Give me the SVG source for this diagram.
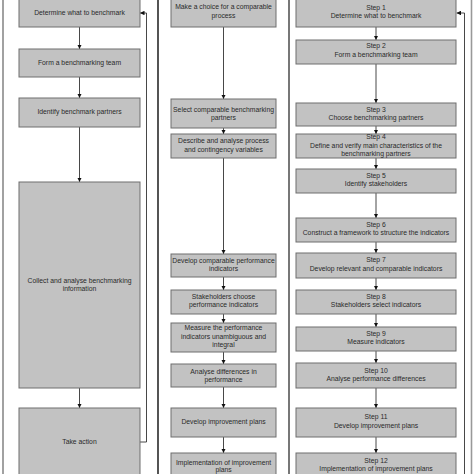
<svg xmlns="http://www.w3.org/2000/svg" width="474" height="474" viewBox="0 0 474 474">
<defs>
<marker id="ah" viewBox="0 0 10 10" refX="10" refY="5" markerWidth="4.5" markerHeight="4.5" markerUnits="userSpaceOnUse" orient="auto">
<path d="M0,0 L10,5 L0,10 z" fill="#111"/>
</marker>
<style>
.b{fill:#c2c2c2;stroke:#6e6e6e;stroke-width:1}
text{font-family:"Liberation Sans",Arial,sans-serif;font-size:6.8px;fill:#2a2a2a;text-anchor:middle}
.c{fill:none;stroke:#333;stroke-width:0.9;marker-end:url(#ah)}
.f{fill:none;stroke:#444;stroke-width:0.9}
.frame{stroke-width:1.6}
</style>
</defs>
<rect width="474" height="474" fill="#fff"/>
<g id="frames">
<line class="frame" x1="3" y1="0" x2="3" y2="474" stroke="#8a8a8a"/>
<line class="frame" x1="158" y1="0" x2="158" y2="474" stroke="#2a2a2a"/>
<line class="frame" x1="289" y1="0" x2="289" y2="474" stroke="#555"/>
<line class="frame" x1="471.5" y1="0" x2="471.5" y2="474" stroke="#999"/>
</g>
<g id="connectors">
<line class="c" x1="79.5" y1="27" x2="79.5" y2="49"/>
<line class="c" x1="79.5" y1="77" x2="79.5" y2="98"/>
<line class="c" x1="79.5" y1="127" x2="79.5" y2="182"/>
<line class="c" x1="79.5" y1="388" x2="79.5" y2="408"/>
<path class="c" d="M140,442 H146.5 V13 H140"/>
<line class="c" x1="223.5" y1="27" x2="223.5" y2="99"/>
<line class="c" x1="223.5" y1="128" x2="223.5" y2="134"/>
<line class="c" x1="223.5" y1="158" x2="223.5" y2="254"/>
<line class="c" x1="223.5" y1="277" x2="223.5" y2="290"/>
<line class="c" x1="223.5" y1="314" x2="223.5" y2="323"/>
<line class="c" x1="223.5" y1="352" x2="223.5" y2="364"/>
<line class="c" x1="223.5" y1="387" x2="223.5" y2="408"/>
<line class="c" x1="223.5" y1="437" x2="223.5" y2="453"/>
<line class="c" x1="376" y1="27" x2="376" y2="40"/>
<line class="c" x1="376" y1="64" x2="376" y2="103"/>
<line class="c" x1="376" y1="126" x2="376" y2="134"/>
<line class="c" x1="376" y1="158" x2="376" y2="169"/>
<line class="c" x1="376" y1="193" x2="376" y2="218"/>
<line class="c" x1="376" y1="242" x2="376" y2="253"/>
<line class="c" x1="376" y1="278" x2="376" y2="290"/>
<line class="c" x1="376" y1="314" x2="376" y2="327"/>
<line class="c" x1="376" y1="351" x2="376" y2="363"/>
<line class="c" x1="376" y1="388" x2="376" y2="408"/>
<line class="c" x1="376" y1="437" x2="376" y2="453"/>
<path class="c" d="M464.5,474 V13 H456.5"/>
</g>
<g id="a1"><rect class="b" x="19" y="-1" width="121" height="28"/><text x="79.5" y="15.4">Determine what to benchmark</text></g>
<g id="a2"><rect class="b" x="19" y="49" width="121" height="28"/><text x="79.5" y="65.4">Form a benchmarking team</text></g>
<g id="a3"><rect class="b" x="19" y="98" width="121" height="29"/><text x="79.5" y="114.4">Identify benchmark partners</text></g>
<g id="a4"><rect class="b" x="19" y="182" width="121" height="206"/><text x="79.5" y="283.4">Collect and analyse benchmarking</text><text x="79.5" y="291.4">information</text></g>
<g id="a5"><rect class="b" x="19" y="408" width="121" height="70"/><text x="79.5" y="444.4">Take action</text></g>
<g id="b1"><rect class="b" x="171" y="-1" width="105" height="28"/><text x="223.5" y="9.4">Make a choice for a comparable</text><text x="223.5" y="18.4">process</text></g>
<g id="b2"><rect class="b" x="171" y="99" width="105" height="29"/><text x="223.5" y="112.4">Select comparable benchmarking</text><text x="223.5" y="120.4">partners</text></g>
<g id="b3"><rect class="b" x="171" y="134" width="105" height="24"/><text x="223.5" y="143.4">Describe and analyse process</text><text x="223.5" y="152.4">and contingency variables</text></g>
<g id="b4"><rect class="b" x="171" y="254" width="105" height="23"/><text x="223.5" y="263.4">Develop comparable performance</text><text x="223.5" y="271.4">indicators</text></g>
<g id="b5"><rect class="b" x="171" y="290" width="105" height="24"/><text x="223.5" y="299.4">Stakeholders choose</text><text x="223.5" y="307.4">performance indicators</text></g>
<g id="b6"><rect class="b" x="171" y="323" width="105" height="29"/><text x="223.5" y="330.4">Measure the performance</text><text x="223.5" y="339.4">indicators unambiguous and</text><text x="223.5" y="347.4">integral</text></g>
<g id="b7"><rect class="b" x="171" y="364" width="105" height="23"/><text x="223.5" y="374.4">Analyse differences in</text><text x="223.5" y="382.4">performance</text></g>
<g id="b8"><rect class="b" x="171" y="408" width="105" height="29"/><text x="223.5" y="424.4">Develop improvement plans</text></g>
<g id="b9"><rect class="b" x="171" y="453" width="105" height="25"/><text x="223.5" y="465.4">Implementation of improvement</text><text x="223.5" y="472.4">plans</text></g>
<g id="s1"><rect class="b" x="296" y="-1" width="160" height="28"/><text x="376" y="10.4">Step 1</text><text x="376" y="18.4">Determine what to benchmark</text></g>
<g id="s2"><rect class="b" x="296" y="40" width="160" height="24"/><text x="376" y="48.4">Step 2</text><text x="376" y="57.4">Form a benchmarking team</text></g>
<g id="s3"><rect class="b" x="296" y="103" width="160" height="23"/><text x="376" y="112.4">Step 3</text><text x="376" y="120.4">Choose benchmarking partners</text></g>
<g id="s4"><rect class="b" x="296" y="134" width="160" height="24"/><text x="376" y="139.4">Step 4</text><text x="376" y="148.4">Define and verify main characteristics of the</text><text x="376" y="156.4">benchmarking partners</text></g>
<g id="s5"><rect class="b" x="296" y="169" width="160" height="24"/><text x="376" y="178.4">Step 5</text><text x="376" y="186.4">Identify stakeholders</text></g>
<g id="s6"><rect class="b" x="296" y="218" width="160" height="24"/><text x="376" y="227.4">Step 6</text><text x="376" y="235.4">Construct a framework to structure the indicators</text></g>
<g id="s7"><rect class="b" x="296" y="253" width="160" height="25"/><text x="376" y="262.4">Step 7</text><text x="376" y="271.4">Develop relevant and comparable indicators</text></g>
<g id="s8"><rect class="b" x="296" y="290" width="160" height="24"/><text x="376" y="299.4">Step 8</text><text x="376" y="307.4">Stakeholders select indicators</text></g>
<g id="s9"><rect class="b" x="296" y="327" width="160" height="24"/><text x="376" y="336.4">Step 9</text><text x="376" y="344.4">Measure indicators</text></g>
<g id="s10"><rect class="b" x="296" y="363" width="160" height="25"/><text x="376" y="373.4">Step 10</text><text x="376" y="381.4">Analyse performance differences</text></g>
<g id="s11"><rect class="b" x="296" y="408" width="160" height="29"/><text x="376" y="419.4">Step 11</text><text x="376" y="428.4">Develop improvement plans</text></g>
<g id="s12"><rect class="b" x="296" y="453" width="160" height="25"/><text x="376" y="463.4">Step 12</text><text x="376" y="471.4">Implementation of improvement plans</text></g>
</svg>
